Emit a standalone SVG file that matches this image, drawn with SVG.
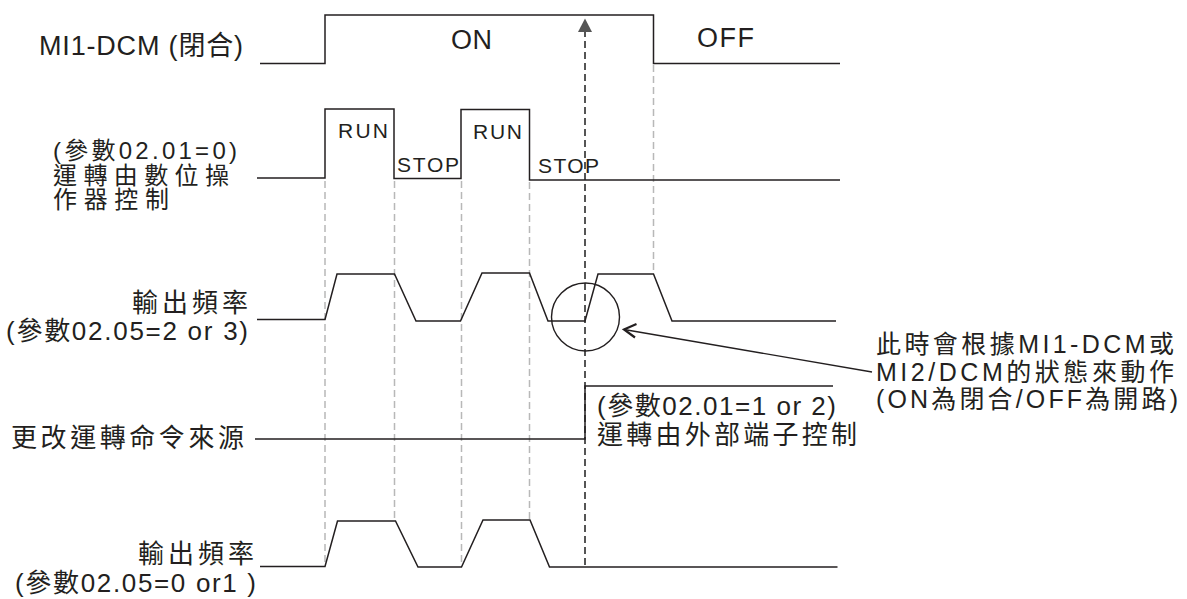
<svg xmlns="http://www.w3.org/2000/svg" width="1187" height="599" viewBox="0 0 1187 599">
<defs>
<style>
.sig{fill:none;stroke:#231f20;stroke-width:1.5;stroke-linejoin:miter}
.grid{fill:none;stroke:#b8b8b8;stroke-width:1.5;stroke-dasharray:7 4}
.mark{fill:none;stroke:#555555;stroke-width:2;stroke-dasharray:7 4}
.ptr{fill:none;stroke:#231f20;stroke-width:1.4}
text{font-family:"Liberation Sans","Noto Sans CJK TC",sans-serif;fill:#231f20}
.big{font-size:27px}
.lab{font-size:26px}
.lab3{font-size:24px}
.sm{font-size:21px}
.note{font-size:25px}
</style>
</defs>
<rect width="1187" height="599" fill="#ffffff"/>

<g id="connectors">
<line class="grid" x1="325" y1="181" x2="325" y2="566"/>
<line class="grid" x1="394.5" y1="181" x2="394.5" y2="521"/>
<line class="grid" x1="461.5" y1="181" x2="461.5" y2="566"/>
<line class="grid" x1="529.5" y1="182" x2="529.5" y2="520"/>
<line class="grid" x1="653.5" y1="65" x2="653.5" y2="273"/>
<line class="mark" x1="585" y1="30" x2="585" y2="567"/>
<path d="M578,32 L585,18.5 L592,32 Z" fill="#555555"/>
<line class="ptr" x1="624" y1="329.5" x2="872" y2="372"/>
<polyline points="636.5,324 624,329.5 635,337.5" fill="none" stroke="#231f20" stroke-width="2.2"/>
</g>

<g id="sig-mi1dcm">
<path class="sig" d="M260,63.5 H325 V15 H653.5 V63.5 H840"/>
<text class="big" x="39" y="55" textLength="204" lengthAdjust="spacing">MI1-DCM (閉合)</text>
<text class="big" x="451" y="49" textLength="41" lengthAdjust="spacing">ON</text>
<text class="big" x="697" y="47" textLength="57" lengthAdjust="spacing">OFF</text>
</g>

<g id="sig-keypad">
<path class="sig" d="M257,178 H325 V109 H394 V178.5 H461 V109.5 H529.5 V180 H840"/>
<text class="sm" x="338" y="138" textLength="50" lengthAdjust="spacing">RUN</text>
<text class="sm" x="473" y="139" textLength="49" lengthAdjust="spacing">RUN</text>
<text class="sm" x="397" y="172" textLength="62" lengthAdjust="spacing">STOP</text>
<text class="sm" x="538" y="173" textLength="61" lengthAdjust="spacing">STOP</text>
<text class="lab3" x="53" y="158.5" textLength="184" lengthAdjust="spacing">(參數02.01=0)</text>
<text class="lab3" x="53" y="183.5" textLength="176" lengthAdjust="spacing">運轉由數位操</text>
<text class="lab3" x="53" y="208" textLength="116" lengthAdjust="spacing">作器控制</text>
</g>

<g id="sig-freq1">
<path class="sig" d="M257,319.5 H325 L337,274 H394.5 L416,321 H460.5 L482,273 H529.5 L548,321 H585 L598,274 H653.5 L672,321 H836"/>
<circle cx="585.5" cy="317" r="34" fill="none" stroke="#231f20" stroke-width="1.4"/>
<text class="lab" x="248" y="312" text-anchor="end" textLength="116" lengthAdjust="spacing">輸出頻率</text>
<text class="lab" x="248" y="340" text-anchor="end" textLength="242" lengthAdjust="spacing">(參數02.05=2 or 3)</text>
</g>

<g id="sig-source">
<path class="sig" d="M255,439 H585 V386 H833"/>
<text class="lab" x="11" y="447" textLength="233" lengthAdjust="spacing">更改運轉命令來源</text>
<text class="lab" x="597" y="415" textLength="239" lengthAdjust="spacing">(參數02.01=1 or 2)</text>
<text class="lab" x="597" y="444" textLength="260" lengthAdjust="spacing">運轉由外部端子控制</text>
</g>

<g id="sig-freq2">
<path class="sig" d="M260,566.5 H325 L337.5,521 H395.5 L418,567 H461.5 L483,520 H530 L549.5,567 H837.5"/>
<text class="lab" x="254" y="563" text-anchor="end" textLength="116" lengthAdjust="spacing">輸出頻率</text>
<text class="lab" x="15" y="592" textLength="241" lengthAdjust="spacing">(參數02.05=0 or1 )</text>
</g>

<g id="note">
<text class="note" x="876" y="353" textLength="298" lengthAdjust="spacing">此時會根據MI1-DCM或</text>
<text class="note" x="876" y="381" textLength="298" lengthAdjust="spacing">MI2/DCM的狀態來動作</text>
<text class="note" x="876" y="408" textLength="302" lengthAdjust="spacing">(ON為閉合/OFF為開路)</text>
</g>
</svg>
